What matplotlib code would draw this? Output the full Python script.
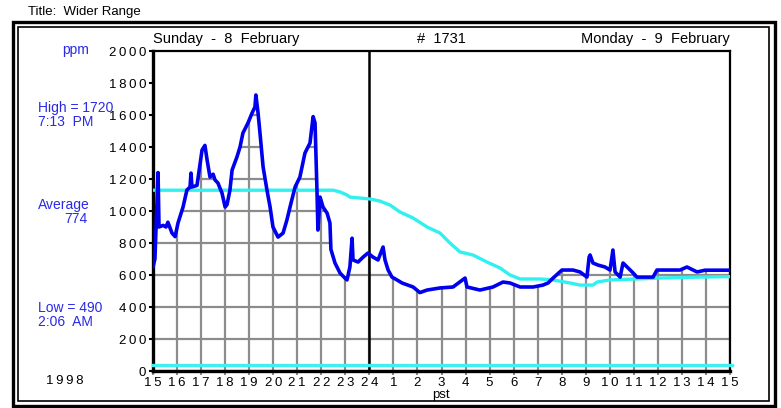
import matplotlib
matplotlib.use("Agg")
import matplotlib.pyplot as plt
from matplotlib.patches import Polygon, Rectangle

plt.rcParams['font.family'] = ['Liberation Sans', 'DejaVu Sans']

# ---------------- data ----------------
# hours since 15:00 Sunday
co2_hours = [0.00, 0.08, 0.21, 0.25, 0.42, 0.54, 0.62, 0.79, 0.92, 1.04, 1.25, 1.41, 1.54, 1.58,
             1.62, 1.83, 2.04, 2.16, 2.25, 2.37, 2.50, 2.58, 2.70, 2.87, 3.00, 3.08, 3.20, 3.29,
             3.49, 3.62, 3.74, 3.95, 4.12, 4.24, 4.28, 4.37, 4.45, 4.58, 4.74, 4.87, 4.99, 5.20,
             5.41, 5.57, 5.70, 5.91, 6.11, 6.32, 6.53, 6.66, 6.74, 6.82, 6.86, 6.95, 7.07, 7.24,
             7.36, 7.40, 7.57, 7.78, 7.99, 8.07, 8.19, 8.28, 8.32, 8.53, 8.74, 8.94, 9.15, 9.36,
             9.57, 9.65, 9.78, 9.94, 10.15, 10.36, 10.82, 11.10, 11.40, 11.94, 12.48, 12.98, 13.06,
             13.60, 14.14, 14.56, 14.85, 15.27, 15.81, 16.22, 16.43, 16.64, 17.01, 17.47, 17.76,
             18.05, 18.14, 18.18, 18.30, 18.51, 18.80, 19.01, 19.13, 19.22, 19.43, 19.55, 19.72,
             19.93, 20.13, 20.38, 20.80, 20.96, 21.38, 21.92, 22.21, 22.63, 22.96, 24.00]
co2_ppm = [650, 700, 1240, 900, 910, 900, 930, 862, 840, 925, 1025, 1131, 1150, 1237,
           1150, 1160, 1381, 1410, 1319, 1212, 1230, 1194, 1175, 1112, 1025, 1040, 1131, 1256,
           1337, 1400, 1487, 1550, 1612, 1650, 1725, 1612, 1487, 1275, 1131, 1025, 900, 837,
           862, 944, 1025, 1150, 1212, 1362, 1425, 1590, 1550, 1131, 881, 1087, 1025, 987,
           925, 760, 675, 612, 580, 569, 650, 830, 694, 681, 712, 737, 712, 694,
           775, 694, 631, 587, 569, 550, 525, 490, 506, 519, 525, 581, 525,
           506, 525, 556, 550, 525, 525, 537, 550, 581, 631, 631, 619,
           587, 712, 725, 675, 662, 650, 631, 756, 619, 587, 675, 650,
           619, 587, 587, 587, 631, 631, 631, 650, 619, 630, 630]

avg_hours = [0.00, 7.50, 7.78, 8.07, 8.19, 9.03, 9.44, 9.86, 10.27, 10.82, 11.40, 11.94, 12.35,
             12.77, 13.31, 13.89, 14.43, 14.85, 15.27, 16.10, 16.64, 17.35, 17.76, 18.30, 18.47,
             19.01, 21.09, 22.75, 24.00]
avg_ppm = [1130, 1130, 1119, 1100, 1087, 1075, 1062, 1037, 994, 956, 900, 862, 800,
           744, 725, 681, 644, 600, 575, 575, 569, 550, 537, 537, 556,
           569, 581, 587, 590]

outdoor_ppm = 40

x_tick_labels = ['15', '16', '17', '18', '19', '20', '21', '22', '23', '24', '1', '2', '3',
                 '4', '5', '6', '7', '8', '9', '10', '11', '12', '13', '14', '15']
y_ticks = [0, 200, 400, 600, 800, 1000, 1200, 1400, 1600, 1800, 2000]

# ---------------- figure ----------------
W, H = 781, 408
fig = plt.figure(figsize=(W / 100, H / 100), dpi=100)


def fx(px):
    return px / W


def fy(py):
    return 1 - py / H


ax = fig.add_axes([fx(153), fy(371), fx(730) - fx(153), fy(51) - fy(371)])
ax.set_xlim(0, 24)
ax.set_ylim(0, 2000)

# grid clipped under the CO2 curve
clip_poly = Polygon(list(zip(co2_hours, co2_ppm)) + [(24, 0), (0, 0)], closed=True,
                    transform=ax.transData, facecolor='none', edgecolor='none')
ax.add_patch(clip_poly)
grid_color = '#8c8c8c'
for h in range(25):
    ln, = ax.plot([h, h], [0, 2000], color=grid_color, lw=1.6, zorder=1)
    ln.set_clip_path(clip_poly)
for v in y_ticks:
    ln, = ax.plot([0, 24], [v, v], color=grid_color, lw=1.6, zorder=1)
    ln.set_clip_path(clip_poly)

# midnight line
ax.axvline(9, color='black', lw=1.8, zorder=2)

# outdoor baseline
ax.plot([0, 24.1], [outdoor_ppm, outdoor_ppm], color='#40f0f0', lw=2.4, zorder=3, clip_on=False)
# running average
ax.plot(avg_hours, avg_ppm, color='#30f0f0', lw=2.4, zorder=3)
# CO2
ax.plot(co2_hours, co2_ppm, color='#0000ee', lw=2.6, zorder=4)

for s in ax.spines.values():
    s.set_color('black')
    s.set_linewidth(1.6)
ax.spines['left'].set_linewidth(2.4)
ax.spines['bottom'].set_linewidth(2.4)

tick_font = dict(fontsize=9.5)
ax.set_yticks(y_ticks)
ax.set_yticklabels(['\u2009'.join(str(v)) for v in y_ticks], **tick_font)
ax.set_xticks(range(25))
ax.set_xticklabels(['\u2009'.join(t) for t in x_tick_labels], **tick_font)
ax.tick_params(axis='y', direction='out', length=3, width=1.5, pad=2)
ax.tick_params(axis='x', direction='out', length=3, width=1.5, color=grid_color, pad=1)

# ---------------- texts ----------------
blue = '#2a2ae6'
fig.text(fx(28), fy(12), 'Title:  Wider Range', fontsize=9.5, va='center', ha='left')
fig.text(fx(153), fy(39), 'Sunday  -  8  February', fontsize=10.5, va='center', ha='left')
fig.text(fx(417), fy(39), '#  1731', fontsize=10.5, va='center', ha='left')
fig.text(fx(730), fy(39), 'Monday  -  9  February', fontsize=10.5, va='center', ha='right')

fig.text(fx(76), fy(50), 'ppm', fontsize=10, color=blue, va='center', ha='center')
fig.text(fx(38), fy(108), 'High = 1720', fontsize=10, color=blue, va='center', ha='left')
fig.text(fx(38), fy(122), '7:13  PM', fontsize=10, color=blue, va='center', ha='left')
fig.text(fx(38), fy(205), 'Average', fontsize=10, color=blue, va='center', ha='left')
fig.text(fx(76), fy(219), '774', fontsize=10, color=blue, va='center', ha='center')
fig.text(fx(38), fy(308), 'Low = 490', fontsize=10, color=blue, va='center', ha='left')
fig.text(fx(38), fy(322), '2:06  AM', fontsize=10, color=blue, va='center', ha='left')
fig.text(fx(65), fy(381), '1\u20099\u20099\u20098', fontsize=9.5, va='center', ha='center')
fig.text(fx(441), fy(395), 'pst', fontsize=9.5, va='center', ha='center')

# double frame
outer = Rectangle((fx(13), fy(406)), fx(775) - fx(13), fy(22) - fy(406), transform=fig.transFigure,
                  fill=False, edgecolor='black', lw=2.4)
inner = Rectangle((fx(18), fy(401)), fx(769) - fx(18), fy(27) - fy(401), transform=fig.transFigure,
                  fill=False, edgecolor='black', lw=1.2)
fig.add_artist(outer)
fig.add_artist(inner)

fig.savefig('out.png', dpi=100)
